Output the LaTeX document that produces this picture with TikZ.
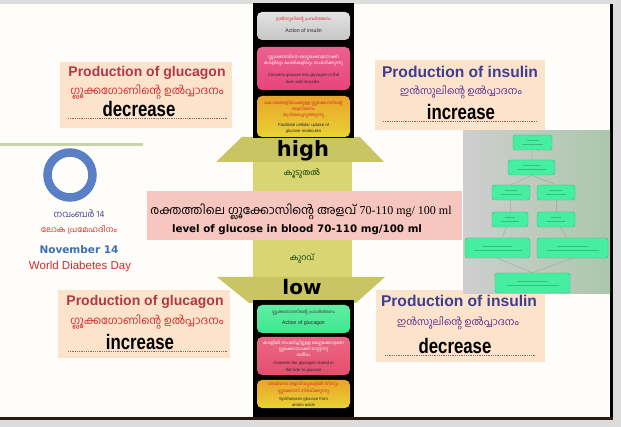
\documentclass[tikz,border=0pt]{standalone}
\usepackage{fontspec}
\setmainfont{Liberation Sans}
\newfontfamily\ml[Script=Malayalam]{Hind Kochi}
\newfontfamily\dvs{DejaVu Sans}
\newfontfamily\lser{Liberation Serif}
\newfontfamily\cond[FakeStretch=0.8]{Liberation Sans}
\definecolor{framegray}{HTML}{DCDCDC}
\definecolor{slide}{HTML}{FFFDF9}
\definecolor{darkbrown}{HTML}{2A1A12}
\definecolor{peach}{HTML}{FCE3CC}
\definecolor{glucred}{HTML}{B0384A}
\definecolor{mlred}{HTML}{D42A2A}
\definecolor{insblue}{HTML}{3E3E8E}
\definecolor{mlpurple}{HTML}{5A2A8A}
\definecolor{dotc}{HTML}{9A6060}
\definecolor{headc}{HTML}{C9C565}
\definecolor{shaftc}{HTML}{D8D672}
\definecolor{bandc}{HTML}{F7C6BE}
\definecolor{pinkbox}{HTML}{E8457D}
\definecolor{redbox}{HTML}{E64D6E}
\definecolor{yelA}{HTML}{E9A52A}
\definecolor{yelB}{HTML}{E8D234}
\definecolor{greenbox}{HTML}{3BE88E}
\definecolor{ringc}{HTML}{5B7FC4}
\definecolor{novblue}{HTML}{3A6FB5}
\definecolor{linec}{HTML}{C9D3A8}
\definecolor{mint}{HTML}{46EEA2}
\definecolor{mintd}{HTML}{2FBF7E}
\definecolor{flowline}{HTML}{9FB09F}
\begin{document}
\begin{tikzpicture}[x=1pt,y=-1pt,
  peachbox/.style={fill=peach,draw=none,inner sep=0pt},
  ttlg/.style={font=\bfseries\fontsize{14}{16}\selectfont,text=glucred,inner sep=0pt},
  ttli/.style={font=\bfseries\fontsize{15.6}{18}\selectfont,text=insblue,inner sep=0pt},
  mlg/.style={font=\ml\fontsize{11}{13}\selectfont,text=mlred,inner sep=0pt},
  mli/.style={font=\ml\fontsize{10}{12}\selectfont,text=mlpurple,inner sep=0pt},
  bigw/.style={font=\cond\bfseries\fontsize{21}{24}\selectfont,text=black,inner sep=0pt,anchor=base},
  dotline/.style={draw=dotc,line width=1pt,dash pattern=on 0.8pt off 1pt},
  colbox/.style={rounded corners=5pt,draw=none,minimum width=93pt,inner sep=0pt},
  tinyml/.style={font=\ml\fontsize{4.3}{6.3}\selectfont,align=center,inner sep=0pt},
  tinyen/.style={font=\fontsize{4.3}{6.3}\selectfont,align=center,inner sep=0pt,text=black!85},
  flowbox/.style={rounded corners=2.5pt,fill=mint,draw=mintd,line width=0.4pt,inner sep=0pt},
  flowconn/.style={draw=flowline,line width=0.5pt},
  txtstroke/.style={draw=mintd!70!black,line width=0.8pt,opacity=0.45}
]
\useasboundingbox (0,0) rectangle (621,427);
% frame
\fill[framegray] (0,0) rectangle (621,427);
\fill[slide] (0,4) rectangle (611,418);
\draw[line width=2.5pt,black] (611.5,4) -- (611.5,419.8);
\draw[line width=2.5pt,darkbrown] (0,418.6) -- (612.7,418.6);

% ---------- top-left box ----------
\node[peachbox,minimum width=172pt,minimum height=66pt] (tlbox) at (146,95) {};
\node[ttlg] (tlt) at (147,73) {Production of glucagon};
\node[mlg] (tlm) at (147,92) {ഗ്ലൂക്കഗോണിന്റെ ഉൽപ്പാദനം};
\draw[dotline] (68,119) -- (228,119);
\node[bigw] (tlw) at (139,117) {decrease};

% ---------- top-right box ----------
\node[peachbox,minimum width=170pt,minimum height=70pt] (trbox) at (460,95) {};
\node[ttli] (trt) at (460,72) {Production of insulin};
\node[mli] (trm) at (461,92) {ഇൻസുലിന്റെ ഉൽപ്പാദനം};
\draw[dotline] (383,121.5) -- (537,121.5);
\node[bigw] (trw) at (461,119.5) {increase};

% ---------- bottom-left box ----------
\node[peachbox,minimum width=172pt,minimum height=68pt] (blbox) at (144,324) {};
\node[ttlg] (blt) at (145,302) {Production of glucagon};
\node[mlg] (blm) at (147,322) {ഗ്ലൂക്കഗോണിന്റെ ഉൽപ്പാദനം};
\draw[dotline] (68,351.5) -- (228,351.5);
\node[bigw] (blw) at (140,349.5) {increase};

% ---------- bottom-right box ----------
\node[peachbox,minimum width=169pt,minimum height=72pt] (brbox) at (460.5,326) {};
\node[ttli] (brt) at (459,301) {Production of insulin};
\node[mli] (brm) at (458,323) {ഇൻസുലിന്റെ ഉൽപ്പാദനം};
\draw[dotline] (385,356) -- (535,356);
\node[bigw] (brw) at (455,354) {decrease};

% ---------- arrows ----------
\fill[headc] (242,137) -- (360,137) -- (384,162) -- (216,162) -- cycle;
\fill[shaftc] (253,162) rectangle (352,192);
\fill[shaftc] (253,240) rectangle (352,277);
\fill[headc] (217,277) -- (385,277) -- (356,303) -- (249,303) -- cycle;
\node[font=\dvs\bfseries\fontsize{21}{24}\selectfont,inner sep=0pt] (high) at (303,151) {high};
\node[font=\ml\fontsize{8}{10}\selectfont,text=black!80!green,inner sep=0pt] (kooduthal) at (302,174) {കൂടുതൽ};
\node[font=\ml\fontsize{8}{10}\selectfont,text=black!80!green,inner sep=0pt] (kuravu) at (302,259) {കുറവ്};
\node[font=\dvs\bfseries\fontsize{20}{23}\selectfont,inner sep=0pt] (low) at (302,287) {low};

% ---------- band ----------
\node[fill=bandc,draw=none,minimum width=315pt,minimum height=49pt,inner sep=0pt] (band) at (304.5,215.5) {};
\node[inner sep=0pt,font=\fontsize{12}{14}\selectfont] (bandml) at (301,212) {{\ml രക്തത്തിലെ ഗ്ലൂക്കോസിന്റെ അളവ്} {\lser 70-110 mg/ 100 ml}};
\node[inner sep=0pt,font=\dvs\bfseries\fontsize{10.3}{12}\selectfont] (banden) at (297,229.5) {level of glucose in blood 70-110 mg/100 ml};

% ---------- top column ----------
\fill[black] (253,3) rectangle (354,138);
\node[colbox,minimum height=28pt,top color=gray!22,bottom color=gray!45] (ins1) at (303.5,26) {};
\node[tinyml,text=mlred] (ins1m) at (303.5,20) {ഇൻസുലിന്റെ പ്രവർത്തനം};
\node[tinyen,font=\fontsize{5.2}{6.5}\selectfont] (ins1e) at (303.5,31) {Action of insulin};
\node[colbox,minimum height=43pt,top color=pinkbox!85!white,bottom color=pinkbox] (ins2) at (303.5,68.5) {};
\node[tinyml,text=white] (ins2m) at (303.5,60.5) {ഗ്ലൂക്കോസിനെ ഗ്ലൈക്കോജനാക്കി\\കരളിലും പേശികളിലും സംഭരിക്കുന്നു};
\node[tinyen] (ins2e) at (303.5,78.5) {Converts glucose into glycogen in the\\liver and muscles.};
\node[colbox,minimum height=41pt,top color=yelA,bottom color=yelB] (ins3) at (303.5,116.5) {};
\node[tinyml,text=mlred] (ins3m) at (303.5,109.5) {കോശങ്ങളിലേക്കുള്ള ഗ്ലൂക്കോസിന്റെ\\ആഗിരണം\\ത്വരിതപ്പെടുത്തുന്നു};
\node[tinyen] (ins3e) at (303.5,128.5) {Facilitate cellular uptake of\\glucose molecules};

% ---------- bottom column ----------
\fill[black] (253,300) rectangle (354,417);
\node[colbox,minimum height=28pt,top color=greenbox!80!white,bottom color=greenbox] (glu1) at (303.5,319) {};
\node[tinyml,text=black!80] (glu1m) at (303.5,313) {ഗ്ലൂക്കഗോണിന്റെ പ്രവർത്തനം};
\node[tinyen,font=\fontsize{5.2}{6.5}\selectfont] (glu1e) at (303.5,323.5) {Action of glucagon};
\node[colbox,minimum height=38pt,top color=redbox!85!white,bottom color=redbox] (glu2) at (303.5,356) {};
\node[tinyml,text=white] (glu2m) at (303.5,348.5) {കരളിൽ സംഭരിച്ചിട്ടുള്ള ഗ്ലൈക്കോജനെ\\ഗ്ലൂക്കോസാക്കി മാറ്റുന്നു\\ശരീരം};
\node[tinyen] (glu2e) at (303.5,367) {Converts the glycogen stored in\\the liver to glucose};
\node[colbox,minimum height=28pt,top color=yelA,bottom color=yelB] (glu3) at (303.5,394) {};
\node[tinyml,text=mlred] (glu3m) at (303.5,388) {അമിനോ ആസിഡുകളിൽ നിന്നും\\ഗ്ലൂക്കോസ് നിർമിക്കുന്നു};
\node[tinyen] (glu3e) at (303.5,402) {Synthesises glucose from\\amino acids};

% ---------- left logo ----------
\draw[linec,line width=3pt] (0,145) -- (143,145);
\draw[ringc,line width=8.5pt] (70,175) circle[radius=22.5];
\node[font=\ml\fontsize{9}{11}\selectfont,text=insblue,inner sep=0pt] (nov) at (79,214) {നവംബർ 14};
\node[font=\ml\fontsize{8}{10}\selectfont,text=mlred,inner sep=0pt] (loka) at (79,230) {ലോക പ്രമേഹദിനം};
\node[font=\dvs\bfseries\fontsize{10.5}{12}\selectfont,text=novblue,inner sep=0pt] (novem) at (79,250) {November 14};
\node[font=\fontsize{11.5}{13}\selectfont,text=mlred,inner sep=0pt] (wdd) at (80,267) {World Diabetes Day};

% ---------- right flowchart image ----------
\shade[left color=gray!38,right color=green!20!gray!55] (463,131) rectangle (610,294);
\node[flowbox,minimum width=39pt,minimum height=15pt] (f1) at (532.5,142.5) {};
\node[flowbox,minimum width=47pt,minimum height=15pt] (f2) at (531.5,167.5) {};
\node[flowbox,minimum width=38pt,minimum height=15pt] (f3) at (511,192.5) {};
\node[flowbox,minimum width=38pt,minimum height=15pt] (f4) at (556,192.5) {};
\node[flowbox,minimum width=36pt,minimum height=15pt] (f5) at (510,219.5) {};
\node[flowbox,minimum width=38pt,minimum height=15pt] (f6) at (556,219.5) {};
\node[flowbox,minimum width=65pt,minimum height=20pt] (f7) at (497.5,248) {};
\node[flowbox,minimum width=71pt,minimum height=20pt] (f8) at (572.5,248) {};
\node[flowbox,minimum width=75pt,minimum height=20pt] (f9) at (532.5,283) {};
\draw[flowconn] (f1) -- (f2);
\draw[flowconn] (f2.south) -- (f3.north);
\draw[flowconn] (f2.south) -- (f4.north);
\draw[flowconn] (f3) -- (f5);
\draw[flowconn] (f4) -- (f6);
\draw[flowconn] (f5) -- (f7);
\draw[flowconn] (f6) -- (f8);
\draw[flowconn] (f7.south) -- (f9.north);
\draw[flowconn] (f8.south) -- (f9.north);
\foreach \n/\w in {f1/10,f2/14,f3/10,f4/10,f5/9,f6/9,f7/24,f8/26,f9/26}{
  \draw[txtstroke] ([xshift=-\w pt,yshift=-2pt]\n.center) -- ([xshift=\w pt,yshift=-2pt]\n.center);
  \draw[txtstroke] ([xshift=-0.6*\w pt,yshift=2pt]\n.center) -- ([xshift=0.6*\w pt,yshift=2pt]\n.center);
}
\end{tikzpicture}
\end{document}
